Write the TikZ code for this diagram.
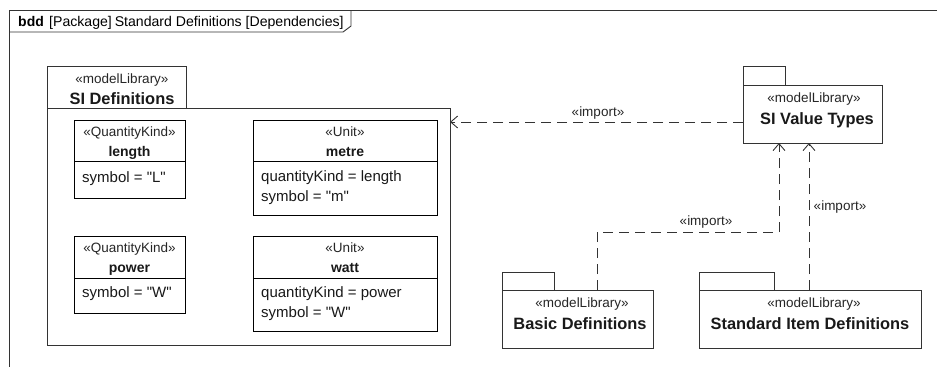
\documentclass[tikz,border=0pt]{standalone}
\usepackage{fontspec}
\setmainfont{Liberation Sans}[Ligatures=TeXOff]
\usetikzlibrary{arrows.meta}

\tikzset{
  box/.style={draw=black!80, line width=0.9pt, inner sep=0pt, outer sep=0pt, fill=white},
  stereo/.style={font=\fontsize{13.5}{16}\selectfont, text=black!85, anchor=base, inner sep=0pt},
  pkgname/.style={font=\fontsize{16.4}{19}\bfseries\selectfont, text=black!90, anchor=base, inner sep=0pt},
  clsname/.style={font=\fontsize{14}{17}\bfseries\selectfont, text=black!90, anchor=base, inner sep=0pt},
  attr/.style={font=\fontsize{15}{18}\selectfont, text=black!90, anchor=base west, inner sep=0pt},
  lbl/.style={font=\fontsize{13.5}{16}\selectfont, text=black!85, anchor=base, inner sep=0pt},
  imp/.style={draw=black!80, line width=0.9pt, dash pattern=on 10pt off 6pt,
              -{Straight Barb[length=7pt,width=12pt]}},
}

\begin{document}
\begin{tikzpicture}[x=1pt,y=-1pt]
  \useasboundingbox (0,0) rectangle (937,367);

  % diagram frame and its header tab
  \draw[line width=0.9pt, black!80] (937,10) -- (9,10) -- (9,367);
  \draw[line width=0.9pt, black!80] (9,32) -- (343,32) -- (351,26) -- (351,10);
  \node[font=\fontsize{14}{17}\bfseries\selectfont, anchor=base west, inner sep=0pt] (hdrkind) at (18,26.5) {bdd};
  \node[font=\fontsize{14.1}{17}\selectfont, anchor=base west, inner sep=0pt] (hdrtitle) at (49,26.5) {[Package]\kern-1pt\ Standard Definitions [Dependencies]};

  % SI Definitions package
  \node[box, minimum width=139pt, minimum height=42pt] (sideftab) at (116.5,87) {};
  \node[box, minimum width=403pt, minimum height=237pt] (sidef) at (248.5,226.5) {};
  \node[stereo] (sidefst) at (122,83) {«modelLibrary»};
  \node[pkgname] (sidefnm) at (122,104) {SI Definitions};

  % length
  \node[box, draw=black, minimum width=111pt, minimum height=78pt] (len) at (129.5,159) {};
  \draw[line width=0.9pt] (74,161) -- (185,161);
  \node[stereo] (lenst) at (129.5,136.7) {«QuantityKind»};
  \node[clsname] (lennm) at (129.5,156) {length};
  \node[attr] (lena) at (82,182) {symbol = "L"};

  % metre
  \node[box, draw=black, minimum width=184pt, minimum height=95pt] (metre) at (345,167.5) {};
  \draw[line width=0.9pt] (253,161) -- (437,161);
  \node[stereo] (metrest) at (345,136.7) {«Unit»};
  \node[clsname] (metrenm) at (345,156) {metre};
  \node[attr] (metrea) at (261,181) {quantityKind = length};
  \node[attr] (metreb) at (261,201.5) {symbol = "m"};

  % power
  \node[box, draw=black, minimum width=111pt, minimum height=77pt] (power) at (129.5,274.5) {};
  \draw[line width=0.9pt] (74,278) -- (185,278);
  \node[stereo] (powerst) at (129.5,252) {«QuantityKind»};
  \node[clsname] (powernm) at (129.5,272) {power};
  \node[attr] (powera) at (82,297) {symbol = "W"};

  % watt
  \node[box, draw=black, minimum width=184pt, minimum height=95pt] (watt) at (345,283.5) {};
  \draw[line width=0.9pt] (253,278) -- (437,278);
  \node[stereo] (wattst) at (345,252) {«Unit»};
  \node[clsname] (wattnm) at (345,272) {watt};
  \node[attr] (watta) at (261,297) {quantityKind = power};
  \node[attr] (wattb) at (261,317) {symbol = "W"};

  % SI Value Types package
  \node[box, minimum width=42pt, minimum height=19pt] (svttab) at (764,75.5) {};
  \node[box, minimum width=139pt, minimum height=58pt] (svt) at (812.5,114) {};
  \node[stereo] (svtst) at (814,102.3) {«modelLibrary»};
  \node[pkgname] (svtnm) at (817,124) {SI Value Types};

  % Basic Definitions package
  \node[box, minimum width=52pt, minimum height=18pt] (basictab) at (528,281) {};
  \node[box, minimum width=151pt, minimum height=58pt] (basic) at (577.5,319) {};
  \node[stereo] (basicst) at (582,307.3) {«modelLibrary»};
  \node[pkgname] (basicnm) at (580,329.3) {Basic Definitions};

  % Standard Item Definitions package
  \node[box, minimum width=75pt, minimum height=18pt] (stdtab) at (736.5,281) {};
  \node[box, minimum width=222pt, minimum height=58pt] (std) at (810,319) {};
  \node[stereo] (stdst) at (814,307.3) {«modelLibrary»};
  \node[pkgname] (stdnm) at (810,329.3) {Standard Item Definitions};

  % import dependencies
  \coordinate (a1) at (0,122);
  \draw[imp] (svt.west |- a1) -- (sidef.east |- a1);
  \node[lbl] (imp1) at (598,116.7) {«import»};

  \coordinate (b1) at (597,232);
  \coordinate (b2) at (779,232);
  \draw[imp] (basic.north -| b1) -- (b1) -- (b2) -- (svt.south -| b2);
  \node[lbl] (imp2) at (706,225.7) {«import»};

  \coordinate (c1) at (809,0);
  \draw[imp] (std.north -| c1) -- (svt.south -| c1);
  \node[lbl] (imp3) at (840,210.7) {«import»};
\end{tikzpicture}
\end{document}
